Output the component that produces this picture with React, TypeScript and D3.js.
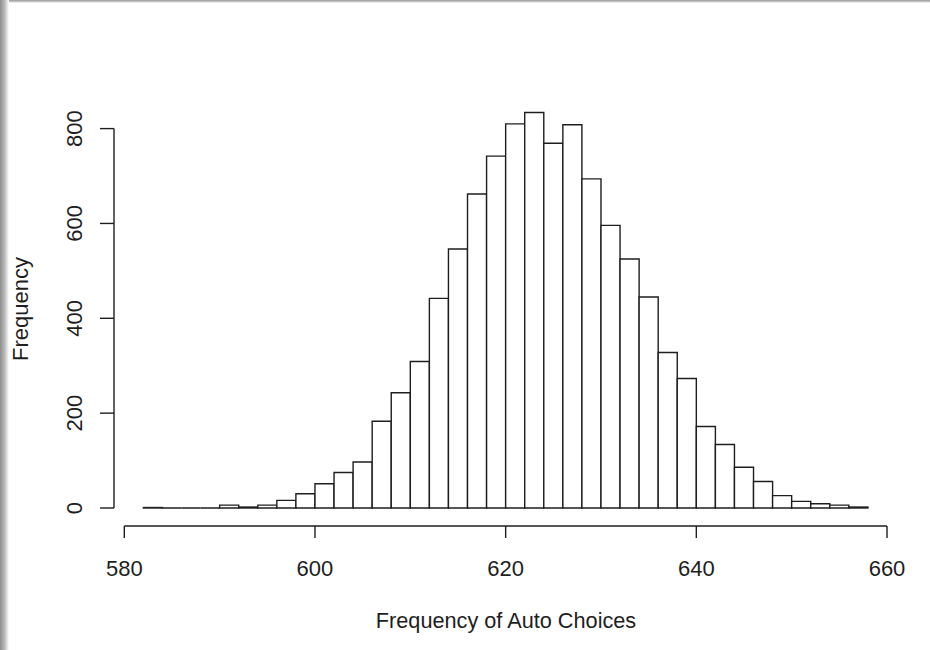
import React from "react";
import * as d3 from "d3";

const binStarts: number[] = [582, 584, 586, 588, 590, 592, 594, 596, 598, 600, 602, 604, 606, 608, 610, 612, 614, 616, 618, 620, 622, 624, 626, 628, 630, 632, 634, 636, 638, 640, 642, 644, 646, 648, 650, 652, 654, 656];
const counts: number[] = [1, 0, 0, 0, 6, 2, 6, 16, 30, 51, 75, 97, 183, 243, 309, 442, 546, 662, 742, 810, 834, 769, 808, 694, 596, 525, 445, 328, 273, 172, 134, 86, 56, 26, 14, 9, 6, 2];
const binWidth = 2;
const xTicks: number[] = [580, 600, 620, 640, 660];
const yTicks: number[] = [0, 200, 400, 600, 800];
const xTitle = "Frequency of Auto Choices";
const yTitle = "Frequency";

export default function App() {
  const W = 930, H = 650;
  const x = d3.scaleLinear().domain([580, 660]).range([124.3, 887]);
  const y = d3.scaleLinear().domain([0, 800]).range([508, 128.6]);
  const font = "'Liberation Sans', Arial, sans-serif";
  const ink = "#1e1e1e";
  const axisY = 526;
  const axisX = 114;

  return (
    <svg width={W} height={H} style={{ position: "absolute", left: 0, top: 0, background: "#fff" }}>
      <defs>
        <linearGradient id="lg" x1="0" x2="1" y1="0" y2="0">
          <stop offset="0" stopColor="#8c8c8c" />
          <stop offset="0.5" stopColor="#b8b8b8" />
          <stop offset="1" stopColor="#ffffff" />
        </linearGradient>
        <linearGradient id="tg" x1="0" x2="0" y1="0" y2="1">
          <stop offset="0" stopColor="#9a9a9a" />
          <stop offset="1" stopColor="#d8d8d8" />
        </linearGradient>
      </defs>
      <rect x={0} y={0} width={W} height={H} fill="#fff" />
      <rect x={0} y={0} width={W} height={2.5} fill="url(#tg)" />
      <rect x={0} y={0} width={9} height={H} fill="url(#lg)" />

      {binStarts.map((b, i) => {
        const x0 = x(b), x1 = x(b + binWidth);
        const y0 = y(0), yt = y(counts[i]);
        return (
          <path
            key={b}
            d={`M${x0},${y0}V${yt}H${x1}V${y0}Z`}
            fill="#fff"
            stroke={ink}
            strokeWidth={1.4}
          />
        );
      })}

      {/* x axis */}
      <line x1={x(580)} x2={x(660)} y1={axisY} y2={axisY} stroke={ink} strokeWidth={1.4} />
      {xTicks.map((t) => (
        <g key={t}>
          <line x1={x(t)} x2={x(t)} y1={axisY} y2={axisY + 12} stroke={ink} strokeWidth={1.4} />
          <text x={x(t)} y={576} textAnchor="middle" fontFamily={font} fontSize={22} fill={ink}>
            {t}
          </text>
        </g>
      ))}

      {/* y axis */}
      <line x1={axisX} x2={axisX} y1={y(0)} y2={y(800)} stroke={ink} strokeWidth={1.4} />
      {yTicks.map((t) => (
        <g key={t}>
          <line x1={axisX - 14} x2={axisX} y1={y(t)} y2={y(t)} stroke={ink} strokeWidth={1.4} />
          <text
            transform={`translate(82,${y(t)}) rotate(-90)`}
            textAnchor="middle"
            fontFamily={font}
            fontSize={22}
            fill={ink}
          >
            {t}
          </text>
        </g>
      ))}

      <text x={506} y={628} textAnchor="middle" fontFamily={font} fontSize={21.7} fill={ink}>
        {xTitle}
      </text>
      <text
        transform={`translate(28,309) rotate(-90)`}
        textAnchor="middle"
        fontFamily={font}
        fontSize={22}
        fill={ink}
      >
        {yTitle}
      </text>
    </svg>
  );
}
